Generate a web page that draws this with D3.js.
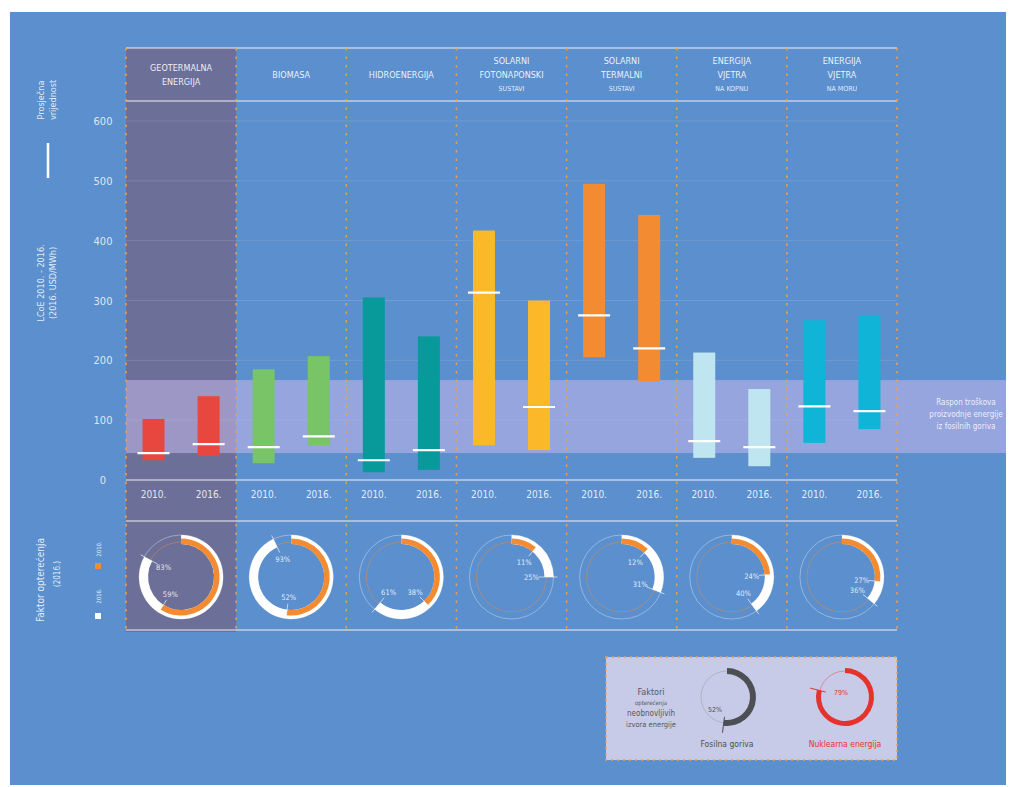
<!DOCTYPE html>
<html>
<head>
<meta charset="utf-8">
<script src="https://cdn.jsdelivr.net/npm/d3@7"></script>
<style>
  html, body { margin: 0; padding: 0; background: #ffffff; }
  svg { display: block; font-family: 'Liberation Sans Narrow', 'DejaVu Sans Condensed', 'Liberation Sans', sans-serif; }
</style>
</head>
<body>
<svg id="chart" width="1012" height="787"></svg>
<script>
// ---------------- DATA ----------------
const categories = ["Geotermalna energija", "Biomasa", "Hidroenergija", "Solarni fotonaponski sustavi",
                    "Solarni termalni sustavi", "Energija vjetra na kopnu", "Energija vjetra na moru"];
const headerMain = [["GEOTERMALNA", "ENERGIJA"], ["BIOMASA"], ["HIDROENERGIJA"], ["SOLARNI", "FOTONAPONSKI"],
                    ["SOLARNI", "TERMALNI"], ["ENERGIJA", "VJETRA"], ["ENERGIJA", "VJETRA"]];
const headerSub = ["", "", "", "SUSTAVI", "SUSTAVI", "NA KOPNU", "NA MORU"];
const years = ["2010.", "2016."];
const colors = ["#e8473f", "#78c466", "#08999b", "#fbb929", "#f28b31", "#bfe6f0", "#10b4d6"];

// LCOE ranges (2016 USD/MWh)
const low2010  = [33, 28, 13, 58, 205, 37, 62];
const high2010 = [102, 185, 305, 417, 495, 213, 267];
const avg2010  = [45, 55, 33, 313, 275, 65, 123];
const low2016  = [40, 58, 17, 50, 165, 23, 85];
const high2016 = [140, 207, 240, 300, 443, 152, 275];
const avg2016  = [60, 73, 50, 122, 220, 55, 115];

// capacity factors (%)
const cf2010 = [59, 52, 38, 11, 12, 24, 27];   // orange
const cf2016 = [83, 93, 61, 25, 31, 40, 36];   // white

const fossilRange = [45, 167];
const yTicks = [0, 100, 200, 300, 400, 500, 600];

const nonRenewLabels = ["Fosilna goriva", "Nuklearna energija"];
const nonRenewCF = [52, 79];

// ---------------- LAYOUT ----------------
const svg = d3.select("#chart");
const W = 1012, H = 787;
const left = 126, right = 897;
const headTop = 48, headBot = 101;
const yAxisTop = 121, yAxisBot = 480;
const yearRowBot = 521, donutBot = 630;
const blue = "#5b8fcd";

svg.append("rect").attr("x", 10).attr("y", 12).attr("width", 996).attr("height", 773).attr("fill", blue);

const x = d3.scaleBand().domain(categories).range([left, right]).padding(0);
const bw = x.bandwidth();
const xi = d3.scalePoint().domain(years).range([bw * 0.25, bw * 0.75]);
const y = d3.scaleLinear().domain([0, 600]).range([yAxisBot, yAxisTop]);
const barW = 22;

// geothermal highlight column
svg.append("rect").attr("x", x(categories[0])).attr("y", headTop)
  .attr("width", bw).attr("height", donutBot - headTop + 2).attr("fill", "#6c7098");

// grid lines
svg.append("g").selectAll("line").data(yTicks.filter(d => d > 0)).join("line")
  .attr("x1", left).attr("x2", right).attr("y1", d => y(d)).attr("y2", d => y(d))
  .attr("stroke", "#ffffff").attr("stroke-opacity", 0.12).attr("stroke-width", 1);

// fossil band
svg.append("rect").attr("x", left).attr("y", y(fossilRange[1]))
  .attr("width", 1006 - left).attr("height", y(fossilRange[0]) - y(fossilRange[1]))
  .attr("fill", "#c6b8ec").attr("fill-opacity", 0.55);
const bandLines = ["Raspon troškova", "proizvodnje energije", "iz fosilnih goriva"];
svg.append("g").selectAll("text").data(bandLines).join("text")
  .attr("x", 966).attr("y", (d, i) => 405 + i * 12)
  .attr("text-anchor", "middle").attr("font-size", 8).attr("fill", "#ffffff").attr("fill-opacity", 0.85)
  .text(d => d);

// y axis tick labels
svg.append("g").selectAll("text").data(yTicks).join("text")
  .attr("x", 103).attr("y", d => y(d) + 4).attr("text-anchor", "middle")
  .attr("font-size", 11).attr("fill", "#ffffff").attr("fill-opacity", 0.8)
  .text(d => d);

// bars
const series = [
  { year: years[0], low: low2010, high: high2010, avg: avg2010 },
  { year: years[1], low: low2016, high: high2016, avg: avg2016 }
];
series.forEach(s => {
  const g = svg.append("g");
  g.selectAll("rect").data(categories).join("rect")
    .attr("x", (c) => x(c) + xi(s.year) - barW / 2)
    .attr("y", (c, i) => y(s.high[i]))
    .attr("width", barW)
    .attr("height", (c, i) => y(s.low[i]) - y(s.high[i]))
    .attr("fill", (c, i) => colors[i]);
  g.selectAll("line").data(categories).join("line")
    .attr("x1", c => x(c) + xi(s.year) - 16).attr("x2", c => x(c) + xi(s.year) + 16)
    .attr("y1", (c, i) => y(s.avg[i])).attr("y2", (c, i) => y(s.avg[i]))
    .attr("stroke", "#ffffff").attr("stroke-width", 2.2);
  g.selectAll("text").data(categories).join("text")
    .attr("x", c => x(c) + xi(s.year)).attr("y", 498)
    .attr("text-anchor", "middle").attr("font-size", 10).attr("fill", "#ffffff").attr("fill-opacity", 0.85)
    .text(s.year);
});

// horizontal white rules
[headTop, headBot, yAxisBot, yearRowBot, donutBot].forEach(v => {
  svg.append("line").attr("x1", left).attr("x2", right).attr("y1", v).attr("y2", v)
    .attr("stroke", "#ffffff").attr("stroke-opacity", 0.6).attr("stroke-width", 1.5);
});

// column dashed separators
const seps = categories.map(c => x(c)).concat([right]);
svg.append("g").selectAll("line").data(seps).join("line")
  .attr("x1", d => d).attr("x2", d => d).attr("y1", headTop).attr("y2", donutBot + 2)
  .attr("stroke", "#f0a04b").attr("stroke-width", 1.5).attr("stroke-dasharray", "2.5,6");

// header labels
categories.forEach((c, i) => {
  const cx = x(c) + bw / 2;
  const main = headerMain[i];
  const sub = headerSub[i];
  const n = main.length + (sub ? 1 : 0);
  const startY = n === 1 ? 78 : (n === 2 ? 71 : 64);
  main.forEach((t, j) => {
    svg.append("text").attr("x", cx).attr("y", startY + j * 14).attr("text-anchor", "middle")
      .attr("font-size", 9).attr("fill", "#ffffff").attr("fill-opacity", 0.9).text(t);
  });
  if (sub) {
    svg.append("text").attr("x", cx).attr("y", startY + main.length * 14 - 1).attr("text-anchor", "middle")
      .attr("font-size", 7).attr("fill", "#ffffff").attr("fill-opacity", 0.85).text(sub);
  }
});

// donuts
const dcy = 577;
const arcW = d3.arc().innerRadius(33).outerRadius(42).startAngle(0);
const arcO = d3.arc().innerRadius(33).outerRadius(38.5).startAngle(0);
categories.forEach((c, i) => {
  const g = svg.append("g").attr("transform", `translate(${x(c) + bw / 2},${dcy})`);
  g.append("circle").attr("r", 42).attr("fill", "none").attr("stroke", "#ffffff").attr("stroke-opacity", 0.35).attr("stroke-width", 1);
  g.append("circle").attr("r", 35).attr("fill", "none").attr("stroke", "#f28b31").attr("stroke-opacity", 0.45).attr("stroke-width", 1);
  g.append("path").attr("d", arcW({ endAngle: 2 * Math.PI * cf2016[i] / 100 })).attr("fill", "#ffffff");
  g.append("path").attr("d", arcO({ endAngle: 2 * Math.PI * cf2010[i] / 100 })).attr("fill", "#f28b31");
  [[cf2016[i], 46], [cf2010[i], 40]].forEach(([v, ro]) => {
    const a = 2 * Math.PI * v / 100;
    const sx = Math.sin(a), sy = -Math.cos(a);
    g.append("line").attr("x1", sx * 27).attr("y1", sy * 27).attr("x2", sx * ro).attr("y2", sy * ro)
      .attr("stroke", "#ffffff").attr("stroke-opacity", 0.8).attr("stroke-width", 0.8);
    g.append("text").attr("x", sx * 20).attr("y", sy * 20 + 3).attr("text-anchor", "middle")
      .attr("font-size", 7.5).attr("fill", "#ffffff").attr("fill-opacity", 0.85).text(v + "%");
  });
});

// left side rotated labels
function vtext(lines, cx, cy, size, gap, opacity) {
  const g = svg.append("g").attr("transform", `translate(${cx},${cy}) rotate(-90)`);
  lines.forEach((t, j) => {
    g.append("text").attr("x", 0).attr("y", j * gap).attr("text-anchor", "middle")
      .attr("font-size", size).attr("fill", "#ffffff").attr("fill-opacity", opacity).text(t);
  });
}
vtext(["Prosječna", "vrijednost"], 44, 100, 9, 12, 0.85);
svg.append("line").attr("x1", 48).attr("x2", 48).attr("y1", 143).attr("y2", 178)
  .attr("stroke", "#ffffff").attr("stroke-width", 2.5);
vtext(["LCoE 2010. - 2016.", "(2016. USD/MWh)"], 44, 283, 9, 12, 0.85);
vtext(["Faktor opterećenja"], 44, 580, 10, 12, 0.85);
vtext(["(2016.)"], 60, 574, 8, 12, 0.85);
// capacity-factor legend
svg.append("rect").attr("x", 95).attr("y", 613).attr("width", 6).attr("height", 6).attr("fill", "#ffffff");
vtext(["2016."], 101, 596, 6, 12, 0.85);
svg.append("rect").attr("x", 95).attr("y", 563).attr("width", 6).attr("height", 6).attr("fill", "#f28b31");
vtext(["2010."], 101, 549, 6, 12, 0.85);

// non-renewable legend box
const lb = svg.append("g");
lb.append("rect").attr("x", 606).attr("y", 657).attr("width", 291).attr("height", 103)
  .attr("fill", "#c7cbe7").attr("stroke", "#f0a04b").attr("stroke-width", 1.5).attr("stroke-dasharray", "2,4");
const legTxt = [["Faktori", 9, 695], ["opterećenja", 6, 705], ["neobnovljivih", 8, 716], ["izvora energije", 7.5, 727]];
legTxt.forEach(([t, s, yy]) => lb.append("text").attr("x", 651).attr("y", yy).attr("text-anchor", "middle")
  .attr("font-size", s).attr("fill", "#55595e").text(t));

const nrCenters = [727, 845];
const nrColors = ["#4c5054", "#e5322d"];
nonRenewLabels.forEach((lab, i) => {
  const g = lb.append("g").attr("transform", `translate(${nrCenters[i]},697)`);
  g.append("circle").attr("r", 26).attr("fill", "none").attr("stroke", i === 0 ? "#8a8e94" : "#e5322d")
    .attr("stroke-opacity", 0.5).attr("stroke-width", 0.8);
  const a = 2 * Math.PI * nonRenewCF[i] / 100;
  g.append("path").attr("d", d3.arc().innerRadius(i === 0 ? 23 : 24).outerRadius(29).startAngle(0).endAngle(a)())
    .attr("fill", nrColors[i]);
  const sx = Math.sin(a), sy = -Math.cos(a);
  g.append("line").attr("x1", sx * 20).attr("y1", sy * 20).attr("x2", sx * 36).attr("y2", sy * 36)
    .attr("stroke", nrColors[i]).attr("stroke-width", 1);
  g.append("text").attr("x", i === 0 ? -12 : -4).attr("y", i === 0 ? 15 : -2).attr("text-anchor", "middle")
    .attr("font-size", 7).attr("fill", nrColors[i]).text(nonRenewCF[i] + "%");
  lb.append("text").attr("x", nrCenters[i]).attr("y", 747).attr("text-anchor", "middle")
    .attr("font-size", 8.5).attr("fill", nrColors[i]).text(lab);
});
</script>
</body>
</html>
